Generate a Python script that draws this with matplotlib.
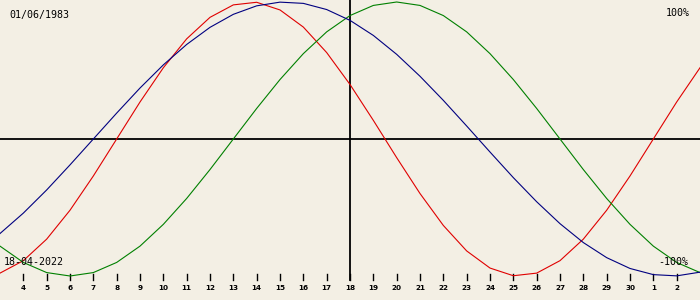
import matplotlib
matplotlib.use("Agg")
import matplotlib.pyplot as plt

# Days shown (3 April .. 3 May), values in -1..1
days = list(range(3, 34))
tick_days = list(range(4, 33))
tick_labels = [str(d) for d in range(4, 31)] + ["1", "2"]

physical = [-0.979, -0.888, -0.731, -0.520, -0.270, 0.0, 0.270, 0.520, 0.731, 0.888,
            0.979, 0.998, 0.942, 0.817, 0.631, 0.398, 0.136, -0.136, -0.398, -0.631,
            -0.817, -0.942, -0.998, -0.979, -0.888, -0.731, -0.520, -0.270, 0.0, 0.270,
            0.520]
emotional = [-0.782, -0.901, -0.975, -1.0, -0.975, -0.901, -0.782, -0.623, -0.434, -0.223,
             0.0, 0.223, 0.434, 0.623, 0.782, 0.901, 0.975, 1.0, 0.975, 0.901,
             0.782, 0.623, 0.434, 0.223, 0.0, -0.223, -0.434, -0.623, -0.782, -0.901,
             -0.975]
intellectual = [-0.690, -0.541, -0.372, -0.189, 0.0, 0.189, 0.372, 0.541, 0.690, 0.815,
                0.910, 0.972, 0.999, 0.990, 0.945, 0.866, 0.756, 0.618, 0.458, 0.282,
                0.095, -0.095, -0.282, -0.458, -0.618, -0.756, -0.866, -0.945, -0.990, -0.999,
                -0.972]

today = 18
birth_text = "01/06/1983"
date_text = "18-04-2022"
top_text = "100%"
bottom_text = "-100%"

bg = "#F3EFE4"
fig = plt.figure(figsize=(7, 3), dpi=100, facecolor=bg)
ax = fig.add_axes([0, 0, 1, 1])
ax.set_facecolor(bg)
ax.set_xlim(3, 33)
ax.set_ylim(-1.1752, 1.0146)
ax.axis("off")

ax.axhline(0, color="black", lw=1.3, zorder=1)
ax.plot([today, today], [1.0146, -1.03], color="black", lw=1.3, zorder=1)

ax.plot(days, physical, color="#E00000", lw=0.8, zorder=3)
ax.plot(days, emotional, color="#008000", lw=0.8, zorder=3)
ax.plot(days, intellectual, color="#000080", lw=0.8, zorder=3)

for d, lab in zip(tick_days, tick_labels):
    ax.plot([d, d], [-0.985, -1.03], color="black", lw=1.0)
    ax.text(d, -1.085, lab, ha="center", va="center", fontsize=5.2,
            fontweight="bold", color="black", family="DejaVu Sans")

mono = "DejaVu Sans Mono"
ax.text(0.013, 0.95, birth_text, transform=ax.transAxes, ha="left", va="center",
        fontsize=7.2, family=mono, color="black")
ax.text(0.986, 0.957, top_text, transform=ax.transAxes, ha="right", va="center",
        fontsize=7.2, family=mono, color="black")
ax.text(0.005, 0.127, date_text, transform=ax.transAxes, ha="left", va="center",
        fontsize=7.2, family=mono, color="black", zorder=4)
ax.text(0.983, 0.127, bottom_text, transform=ax.transAxes, ha="right", va="center",
        fontsize=7.2, family=mono, color="black", zorder=4)

fig.savefig("out.png", dpi=100, facecolor=bg)
